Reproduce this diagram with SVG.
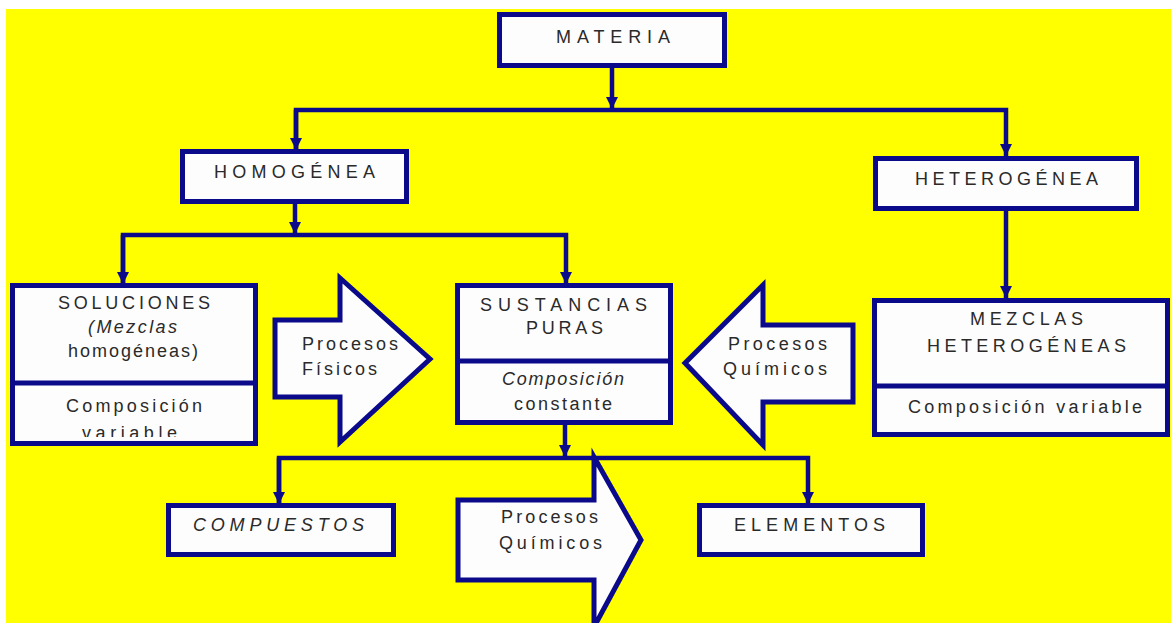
<svg xmlns="http://www.w3.org/2000/svg" width="1171" height="623" viewBox="0 0 1171 623">
  <defs>
    <style>
      .box { fill: #fdfdfd; stroke: #0a0a8a; stroke-width: 5; }
      .div { stroke: #0a0a8a; stroke-width: 5; fill: none; }
      .blk { fill: #fdfdfd; stroke: #0a0a8a; stroke-width: 5; stroke-linejoin: miter; }
      .ln { fill: none; stroke: #0a0a8a; stroke-width: 4.5; stroke-linejoin: miter; }
      .t { font-family: "Liberation Sans", Arial, sans-serif; font-size: 18px; fill: #2a2a2a; text-anchor: start; }
      .s { font-family: "Liberation Sans", Arial, sans-serif; font-size: 18px; fill: #2a2a2a; text-anchor: start; }
    </style>
    <marker id="ah" markerUnits="userSpaceOnUse" markerWidth="14" markerHeight="12" refX="12" refY="6" orient="auto">
      <path d="M0,0 L12,6 L0,12 Z" fill="#0a0a8a"/>
    </marker>
    <clipPath id="clipVar">
      <rect x="12" y="385" width="244" height="52"/>
    </clipPath>
  </defs>

  <rect x="0" y="0" width="1171" height="623" fill="#ffffff"/>
  <rect x="6" y="9" width="1165" height="614" fill="#ffff00"/>

  <g id="connectors">
    <line class="ln" x1="612" y1="68" x2="612" y2="109" marker-end="url(#ah)"/>
    <polyline class="ln" points="296,150 296,110 1006,110 1006,156" marker-end="url(#ah)"/>
    <line class="ln" x1="296" y1="110" x2="296" y2="150" marker-end="url(#ah)"/>
    <line class="ln" x1="295" y1="204" x2="295" y2="234" marker-end="url(#ah)"/>
    <polyline class="ln" points="123,284 123,235 566,235 566,284" marker-end="url(#ah)"/>
    <line class="ln" x1="123" y1="235" x2="123" y2="284" marker-end="url(#ah)"/>
    <line class="ln" x1="1006" y1="211" x2="1006" y2="298" marker-end="url(#ah)"/>
    <line class="ln" x1="565" y1="425" x2="565" y2="457" marker-end="url(#ah)"/>
    <polyline class="ln" points="279,504 279,458 808,458 808,504" marker-end="url(#ah)"/>
    <line class="ln" x1="279" y1="458" x2="279" y2="504" marker-end="url(#ah)"/>
  </g>

  <g id="materia">
    <rect class="box" x="499.5" y="14.5" width="225" height="51"/>
    <text class="t" x="556" y="43" textLength="114" lengthAdjust="spacing">MATERIA</text>
  </g>

  <g id="homogenea">
    <rect class="box" x="182.5" y="151.5" width="224" height="50"/>
    <text class="t" x="214" y="178" textLength="161" lengthAdjust="spacing">HOMOGÉNEA</text>
  </g>

  <g id="heterogenea">
    <rect class="box" x="875.5" y="158.5" width="261" height="50"/>
    <text class="t" x="915" y="185" textLength="183" lengthAdjust="spacing">HETEROGÉNEA</text>
  </g>

  <g id="soluciones">
    <rect class="box" x="12.5" y="285.5" width="243" height="158"/>
    <line class="div" x1="12.5" y1="383" x2="255.5" y2="383"/>
    <text class="t" x="58" y="309" textLength="152" lengthAdjust="spacing">SOLUCIONES</text>
    <text class="s" x="88" y="333" textLength="89" lengthAdjust="spacing" font-style="italic">(Mezclas</text>
    <text class="s" x="68" y="357" textLength="130" lengthAdjust="spacing">homogéneas)</text>
    <text class="s" x="66" y="412" textLength="136" lengthAdjust="spacing">Composición</text>
    <text class="s" x="82" y="439" textLength="95" lengthAdjust="spacing" clip-path="url(#clipVar)">variable</text>
  </g>

  <g id="procesos-fisicos">
    <polygon class="blk" points="275,320 340,320 340,278 430,359 340,442 340,397 275,397"/>
    <text class="s" x="302" y="350" textLength="96" lengthAdjust="spacing">Procesos</text>
    <text class="s" x="302" y="375" textLength="75" lengthAdjust="spacing">Físicos</text>
  </g>

  <g id="sustancias">
    <rect class="box" x="457.5" y="285.5" width="213" height="137"/>
    <line class="div" x1="457.5" y1="361" x2="670.5" y2="361"/>
    <text class="t" x="480" y="311" textLength="167" lengthAdjust="spacing">SUSTANCIAS</text>
    <text class="t" x="526" y="334" textLength="77" lengthAdjust="spacing">PURAS</text>
    <text class="s" x="502" y="385" textLength="122" lengthAdjust="spacing" font-style="italic">Composición</text>
    <text class="s" x="514" y="410" textLength="98" lengthAdjust="spacing">constante</text>
  </g>

  <g id="procesos-quimicos-1">
    <polygon class="blk" points="853,325 763,325 763,285 685,363 763,445 763,402 853,402"/>
    <text class="s" x="728" y="350" textLength="99" lengthAdjust="spacing">Procesos</text>
    <text class="s" x="723" y="375" textLength="104" lengthAdjust="spacing">Químicos</text>
  </g>

  <g id="mezclas">
    <rect class="box" x="874.5" y="300.5" width="293" height="134"/>
    <line class="div" x1="874.5" y1="386" x2="1167.5" y2="386"/>
    <text class="t" x="970" y="325" textLength="113" lengthAdjust="spacing">MEZCLAS</text>
    <text class="t" x="927" y="352" textLength="199" lengthAdjust="spacing">HETEROGÉNEAS</text>
    <text class="s" x="908" y="413" textLength="234" lengthAdjust="spacing">Composición variable</text>
  </g>

  <g id="compuestos">
    <rect class="box" x="168.5" y="505.5" width="225" height="49"/>
    <text class="t" x="193" y="531" textLength="171" lengthAdjust="spacing" font-style="italic">COMPUESTOS</text>
  </g>

  <g id="procesos-quimicos-2">
    <polygon class="blk" points="458,500 594,500 594,457 641,540 594,627 594,580 458,580"/>
    <text class="s" x="501" y="523" textLength="97" lengthAdjust="spacing">Procesos</text>
    <text class="s" x="499" y="549" textLength="103" lengthAdjust="spacing">Químicos</text>
  </g>

  <g id="elementos">
    <rect class="box" x="699.5" y="505.5" width="223" height="49"/>
    <text class="t" x="734" y="531" textLength="151" lengthAdjust="spacing">ELEMENTOS</text>
  </g>
</svg>
